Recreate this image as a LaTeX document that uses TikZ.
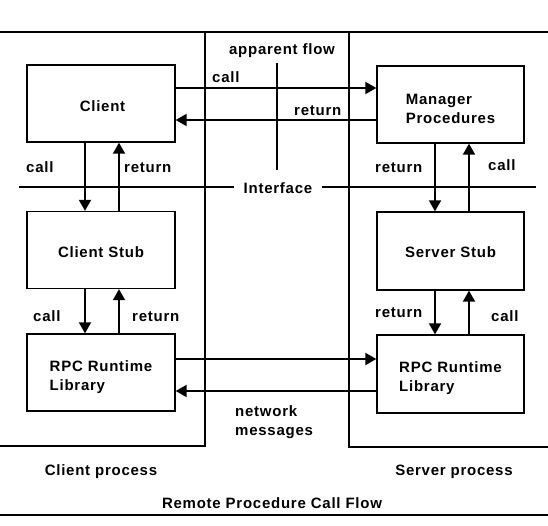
\documentclass[tikz,border=0pt]{standalone}
\usepackage{fontspec}
\setmainfont{Liberation Sans}[LetterSpace=5]
\usetikzlibrary{arrows.meta}
\newcommand\dnstrut[1]{\rule{0pt}{#1pt}}
\begin{document}
\begin{tikzpicture}[x=1pt,y=-1pt,
  every node/.style={font=\fontsize{15}{19}\selectfont\bfseries},
  box/.style={draw,line width=1.3pt,minimum width=148pt,minimum height=77pt,inner sep=0pt,align=left},
  lbl/.style={anchor=base west,inner sep=0pt},
  clbl/.style={anchor=base,inner sep=0pt},
  arr/.style={line width=1.9pt,-{Triangle[length=11pt,width=12pt]}},
  frame/.style={line width=1.6pt},
  thin/.style={line width=1.3pt}]
\useasboundingbox (0,0) rectangle (548,526);
% process frames
\draw[frame] (0,32) -- (548,32);
\draw[frame] (0,446) -- (205,446) -- (205,32);
\draw[frame] (548,447) -- (349,447) -- (349,32);
\draw[line width=1.4pt] (0,515) -- (548,515);
% boxes
\node[box] (client) at (101,103.5) {\dnstrut{17}\hspace{3pt}Client};
\node[box] (cstub) at (101,250) {\dnstrut{16}Client Stub};
\node[box] (crpc) at (101,372.5) {\dnstrut{21}RPC Runtime\\Library};
\node[box,minimum width=147pt] (mgr) at (450.5,104.5) {\dnstrut{19}Manager\\Procedures};
\node[box,minimum width=147pt,minimum height=78pt] (sstub) at (450.5,251) {\dnstrut{14}Server Stub};
\node[box,minimum width=147pt,minimum height=78pt] (srpc) at (450.5,374) {\dnstrut{20}RPC Runtime\\Library};
% helper coordinates
\coordinate (callY) at (0,88);
\coordinate (retY) at (0,120);
\coordinate (netA) at (0,359);
\coordinate (netB) at (0,391);
\coordinate (lx1) at (85,0);
\coordinate (lx2) at (119,0);
\coordinate (rx1) at (435,0);
\coordinate (rx2) at (469,0);
% apparent flow arrows
\draw[arr] (client.east |- callY) -- (mgr.west |- callY);
\draw[arr] (mgr.west |- retY) -- (client.east |- retY);
% network
\draw[arr] (crpc.east |- netA) -- (srpc.west |- netA);
\draw[arr] (srpc.west |- netB) -- (crpc.east |- netB);
% client side vertical
\draw[arr] (client.south -| lx1) -- (cstub.north -| lx1);
\draw[arr] (cstub.north -| lx2) -- (client.south -| lx2);
\draw[arr] (cstub.south -| lx1) -- (crpc.north -| lx1);
\draw[arr] (crpc.north -| lx2) -- (cstub.south -| lx2);
% server side vertical
\draw[arr] (mgr.south -| rx1) -- (sstub.north -| rx1);
\draw[arr] (sstub.north -| rx2) -- (mgr.south -| rx2);
\draw[arr] (sstub.south -| rx1) -- (srpc.north -| rx1);
\draw[arr] (srpc.north -| rx2) -- (sstub.south -| rx2);
% interface line
\node[clbl] (iface) at (278,194) {Interface};
\coordinate (ifL) at (19,187);
\coordinate (ifR) at (536,187);
\draw[thin] (ifL) -- ([xshift=-10pt]ifL -| iface.west);
\draw[thin] ([xshift=10pt]ifR -| iface.east) -- (ifR);
% apparent flow
\node[clbl] (af) at (282,55) {apparent flow};
\coordinate (afB) at (277,170);
\draw[thin] (afB |- 0,63) -- (afB);
% labels
\node[lbl] (l1) at (212,83) {call};
\node[lbl] (l2) at (294,116) {return};
\node[lbl] (l3) at (26,173) {call};
\node[lbl] (l4) at (124,173) {return};
\node[lbl] (l5) at (375,173) {return};
\node[lbl] (l6) at (488,171) {call};
\node[lbl] (l7) at (33,321) {call};
\node[lbl] (l8) at (132,321) {return};
\node[lbl] (l9) at (375,317) {return};
\node[lbl] (l10) at (491,321) {call};
\node[lbl,align=left,anchor=north west] (net) at (235,405) {network\\messages};
\node[clbl] (cp) at (101,475) {Client process};
\node[clbl] (sp) at (454,475) {Server process};
\node[clbl] (title) at (272,508) {Remote Procedure Call Flow};
\end{tikzpicture}
\end{document}
